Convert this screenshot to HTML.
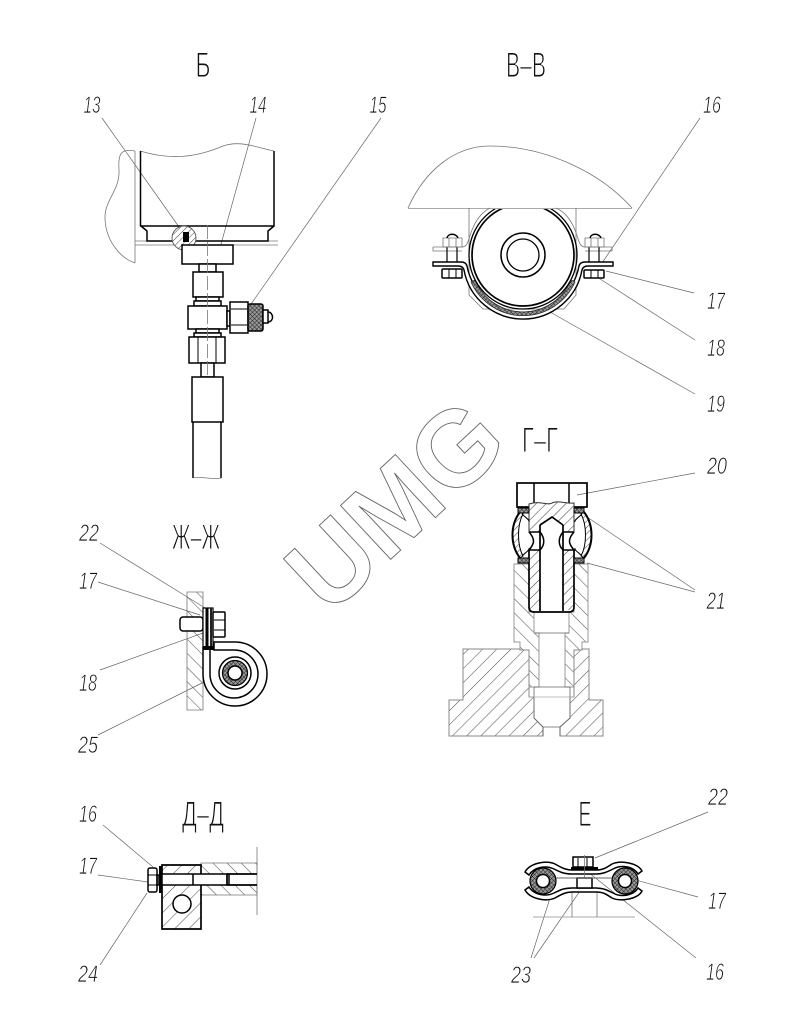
<!DOCTYPE html>
<html><head><meta charset="utf-8"><style>
html,body{margin:0;padding:0;background:#fff}svg{display:block}
.t{fill:none;stroke:#777;stroke-width:.8}
.k{fill:none;stroke:#000;stroke-width:1.5}
.w{fill:#fff;stroke:#000;stroke-width:1.5}
.l{fill:none;stroke:#666;stroke-width:.7}
.g{fill:none;stroke:#aaa;stroke-width:1}
text{font-family:"Liberation Sans","DejaVu Sans",sans-serif}
.n{font-size:24px;font-style:italic;fill:#111;stroke:#fff;stroke-width:.7;paint-order:fill stroke;text-anchor:middle}
.h{font-size:35px;fill:#111;stroke:#fff;stroke-width:1.1;paint-order:fill stroke;text-anchor:middle}
</style></head><body>
<svg width="795" height="1028" viewBox="0 0 795 1028" xmlns="http://www.w3.org/2000/svg">
<defs>
<pattern id="h" patternUnits="userSpaceOnUse" width="10" height="10" patternTransform="rotate(45)"><line x1="0" y1="0" x2="0" y2="10" stroke="#555" stroke-width="1.1"/></pattern>
<pattern id="h7" patternUnits="userSpaceOnUse" width="7" height="7" patternTransform="rotate(45)"><line x1="0" y1="0" x2="0" y2="7" stroke="#444" stroke-width="1.1"/></pattern>
<pattern id="h2" patternUnits="userSpaceOnUse" width="10" height="10" patternTransform="rotate(-45)"><line x1="0" y1="0" x2="0" y2="10" stroke="#555" stroke-width="1.1"/></pattern>
<pattern id="hs" patternUnits="userSpaceOnUse" width="4.500" height="4.500" patternTransform="rotate(45)"><line x1="0" y1="0" x2="0" y2="4.500" stroke="#444" stroke-width="1"/></pattern>
<pattern id="x" patternUnits="userSpaceOnUse" width="3" height="3" patternTransform="rotate(45)"><rect width="3" height="3" fill="#999"/><path d="M0 0V3M0 0H3" stroke="#222" stroke-width="1"/></pattern>
<clipPath id="c1"><rect x="400" y="209" width="260" height="130"/></clipPath>
</defs>
<rect width="795" height="1028" fill="#fff"/>

<!-- watermark -->
<text transform="translate(329,617) rotate(-43)" font-size="107" font-weight="700" fill="none" stroke="#666" stroke-width=".9" style="font-family:'Liberation Sans',sans-serif">UMG</text>

<!-- Titles -->
<text class="h" x="203" y="77" textLength="15" lengthAdjust="spacingAndGlyphs">Б</text>
<text class="h" x="526" y="77" textLength="40" lengthAdjust="spacingAndGlyphs">В–В</text>
<text class="h" x="540" y="452" textLength="36" lengthAdjust="spacingAndGlyphs">Г–Г</text>
<text class="h" x="196" y="549" textLength="48" lengthAdjust="spacingAndGlyphs">Ж–Ж</text>
<text class="h" x="203" y="826" textLength="42" lengthAdjust="spacingAndGlyphs">Д–Д</text>
<text class="h" x="585" y="826" textLength="13" lengthAdjust="spacingAndGlyphs">Е</text>

<!-- Labels -->
<g>
<text class="n" x="92" y="113" textLength="17" lengthAdjust="spacingAndGlyphs">13</text>
<text class="n" x="258" y="113" textLength="17" lengthAdjust="spacingAndGlyphs">14</text>
<text class="n" x="378" y="113" textLength="17" lengthAdjust="spacingAndGlyphs">15</text>
<text class="n" x="712" y="113" textLength="18" lengthAdjust="spacingAndGlyphs">16</text>
<text class="n" x="716" y="309" textLength="18" lengthAdjust="spacingAndGlyphs">17</text>
<text class="n" x="716" y="356" textLength="18" lengthAdjust="spacingAndGlyphs">18</text>
<text class="n" x="716" y="412" textLength="18" lengthAdjust="spacingAndGlyphs">19</text>
<text class="n" x="717" y="474" textLength="20" lengthAdjust="spacingAndGlyphs">20</text>
<text class="n" x="716" y="609" textLength="19" lengthAdjust="spacingAndGlyphs">21</text>
<text class="n" x="89" y="541" textLength="20" lengthAdjust="spacingAndGlyphs">22</text>
<text class="n" x="88" y="589" textLength="18" lengthAdjust="spacingAndGlyphs">17</text>
<text class="n" x="88" y="691" textLength="18" lengthAdjust="spacingAndGlyphs">18</text>
<text class="n" x="88" y="753" textLength="20" lengthAdjust="spacingAndGlyphs">25</text>
<text class="n" x="88" y="822" textLength="18" lengthAdjust="spacingAndGlyphs">16</text>
<text class="n" x="88" y="874" textLength="18" lengthAdjust="spacingAndGlyphs">17</text>
<text class="n" x="88" y="982" textLength="20" lengthAdjust="spacingAndGlyphs">24</text>
<text class="n" x="718" y="805" textLength="20" lengthAdjust="spacingAndGlyphs">22</text>
<text class="n" x="717" y="909" textLength="18" lengthAdjust="spacingAndGlyphs">17</text>
<text class="n" x="715" y="980" textLength="18" lengthAdjust="spacingAndGlyphs">16</text>
<text class="n" x="521" y="983" textLength="20" lengthAdjust="spacingAndGlyphs">23</text>
</g>

<!-- Leaders -->
<path class="l" d="M102,118L179,227M256,118L218,255M381,118L242,317
M700,118L602,263M606,271L694,293M597,277L695,340M550,312L695,394
M577,495L695,473M587,517L695,590M587,563L695,592
M100,543L205,608M98,582L200,615M100,670L203,633M98,735L202,683
M103,825L153,867M98,875L148,882M100,965L147,893
M708,812L595,858M632,879L698,897M588,872L696,958M550,898L531,958M582,888L534,958"/>

<!-- VIEW B -->
<path class="t" d="M135,151C120,148 118,155 119,170C120,190 105,200 105,217C105,240 120,258 135,263"/>
<path class="t" d="M135,151V263M135,241H278M135,245H278"/>
<path class="t" d="M140,151C170,160 195,158 223,146C240,140 255,147 274,151"/>
<path class="k" d="M140.500,151V226H274V151M141,226L147,231V241H268V231L274,226"/>
<circle cx="184" cy="238" r="12" fill="#fff"/>
<circle cx="184" cy="238" r="12" fill="url(#hs)" stroke="#555" stroke-width=".9"/>
<rect x="183" y="232" width="6" height="10" fill="#000"/>
<rect class="w" x="182" y="245" width="51" height="19"/>
<rect class="w" x="199" y="264" width="17" height="8"/>
<rect class="w" x="193" y="272" width="30" height="25"/>
<rect class="w" x="196" y="297" width="23" height="4"/>
<rect class="w" x="194" y="301" width="27" height="5"/>
<rect class="w" x="188" y="306" width="39" height="23"/>
<rect class="w" x="196" y="329" width="23" height="4"/>
<rect class="w" x="194" y="333" width="27" height="4"/>
<rect class="w" x="189" y="337" width="36" height="26"/>
<path class="k" d="M198,337V363M216,337V363" style="stroke-width:1"/>
<rect class="w" x="201" y="363" width="13" height="14"/>
<rect class="w" x="192" y="377" width="31" height="45"/>
<path class="k" d="M193,422V478M221,422V478"/>
<path class="t" d="M193,478C200,476 214,480 221,478"/>
<path class="t" d="M207.500,225V378" stroke-dasharray="14 3"/>
<rect class="w" x="227" y="311" width="3" height="15"/>
<rect class="w" x="230" y="302" width="18" height="31"/>
<path class="k" d="M231,309H247M231,325H247" style="stroke-width:1"/>
<rect x="248" y="304" width="15" height="27" rx="2" fill="url(#x)" stroke="#000" stroke-width="1.5"/>
<rect class="w" x="263" y="310" width="5" height="13"/>
<path class="k" d="M268,312C273,312 275,321 268,322"/>

<!-- VIEW V-V -->
<path class="t" d="M408,208C425,170 455,146 490,146C545,146 600,172 632,208"/>
<path class="g" d="M408,208.500H632"/>
<path class="t" d="M469,208V295L483,309H564L576,295V208"/>
<path class="t" d="M433,247H462C468,247 468,240 472,230C476,220 482,212 490,208M612,247H585C579,247 579,240 575,230C571,220 565,212 556,208"/>
<path class="t" d="M433,247V251H462M612,247V251H585"/>
<path d="M471,282A57,57 0 0 0 575,282L571,280A52,52 0 0 1 475,280Z" fill="url(#x)" stroke="#333" stroke-width=".8"/>
<path class="w" style="stroke-width:1.400" d="M433,266H458Q463,266 464,270A60,60 0 0 0 582,270Q583,266 588,266H613V262H585Q580,262 579,266A57,57 0 0 1 467,266Q466,262 461,262H433Z"/>
<path d="M471,282A57,57 0 0 0 575,282L571,280A52,52 0 0 1 475,280Z" fill="url(#x)" stroke="#333" stroke-width=".8"/>
<g clip-path="url(#c1)">
<circle cx="523" cy="255" r="54" fill="none" stroke="#000" stroke-width="1.300"/>
<circle cx="523" cy="255" r="51" fill="#fff" stroke="#000" stroke-width="1.700"/>
</g>
<circle class="k" cx="523" cy="255" r="22"/>
<circle class="k" cx="523" cy="255" r="16" style="stroke-width:1.300"/>
<path class="k" d="M447,247V262M457,247V262M589,247V262M599,247V262" style="stroke-width:1.200"/>
<path class="t" d="M443,238H462V247H443ZM449,238V247M456,238V247M585,238H604V247H585ZM591,238V247M598,238V247"/>
<path d="M447,238C448,233 456,233 458,238M590,238C591,233 599,233 601,238" fill="none" stroke="#000" stroke-width="1.500"/>
<rect class="w" x="442" y="269" width="20" height="9" rx="1"/>
<rect class="w" x="584" y="270" width="20" height="8" rx="1"/>
<path class="k" d="M449,269V278M456,269V278M591,270V278M598,270V278" style="stroke-width:1"/>

<!-- VIEW G-G -->
<path d="M514,564H529V612H534V633H539V687H529V650H520V642H514Z" style="fill:url(#h2);stroke:#999;stroke-width:1"/>
<path d="M588,564H574V612H569V633H565V687H574V650H582V642H588Z" style="fill:url(#h2);stroke:#999;stroke-width:1"/>
<path d="M463,649H520V650H529V697H534V718L543,727V736H449V700H463ZM589,649H582V650H574V697H570V718L560,727V736H603V700H589Z" fill="url(#h)" stroke="#888" stroke-width="1"/>
<path class="t" d="M534,687H570V718L560,727H543L534,718V687M534,633H569" style="stroke:#666"/>
<path class="t" d="M529,697H574" style="stroke:#aaa"/>
<path class="t" d="M543,727V736M560,727V736" style="stroke:#555"/>
<rect class="k" x="517" y="483" width="70" height="24" style="stroke-width:1.700"/>
<path class="k" d="M534,483V503M569,483V503"/>
<path d="M529,504C540,500 548,506 552,503C558,500 566,504 574,503V532H563V525L552,517L540,525V532H529Z" style="fill:#fff"/>
<path d="M529,504C540,500 548,506 552,503C558,500 566,504 574,503V532H563V525L552,517L540,525V532H529Z" fill="url(#h7)" stroke="#333" stroke-width="1"/>
<path d="M529,550H540V610H530ZM563,550H574V610H563Z" fill="url(#h7)"/>
<path class="k" d="M529,532H540M563,532H574M529,532C536,540 534,544 529,550H540C545,545 545,538 540,532M574,532C567,540 569,544 574,550H563C558,545 558,538 563,532"/>
<path d="M529,550V607Q529,612 534,612H569Q574,612 574,607V550M540,525V611M563,525V611M540,525L552,517L563,525" fill="none" stroke="#000" stroke-width="1.700"/>
<path d="M520,512C510,525 510,545 520,558L523,556C517,545 517,525 523,514Z" fill="url(#hs)" stroke="#000" stroke-width="1"/>
<path d="M584,512C594,525 594,545 584,558L581,556C587,545 587,525 581,514Z" fill="url(#hs)" stroke="#000" stroke-width="1"/>
<path d="M520,512C510,525 510,545 520,558M584,512C594,525 594,545 584,558" fill="none" stroke="#000" stroke-width="2"/>
<path class="k" d="M522,514C526,518 530,520 529,522M582,514C578,518 574,520 575,522M522,556C526,552 530,550 529,548M582,556C578,552 574,550 575,548" style="stroke-width:1"/>
<rect x="518" y="508" width="11" height="5" fill="url(#x)" stroke="#000"/><rect x="518" y="558" width="11" height="5" fill="url(#x)" stroke="#000"/>
<rect x="574" y="508" width="10" height="5" fill="url(#x)" stroke="#000"/><rect x="574" y="558" width="10" height="5" fill="url(#x)" stroke="#000"/>

<!-- VIEW ZH-ZH -->
<path d="M187,592H203V710H187Z" style="fill:url(#h2);stroke:#777;stroke-width:.8"/>
<rect class="w" x="180" y="617" width="23" height="14" rx="3"/>
<rect x="203" y="608" width="10" height="40" fill="#fff" stroke="#000" stroke-width="1.200"/>
<rect x="205.500" y="608" width="3" height="40" fill="#000"/>
<rect x="210" y="608" width="2" height="40" fill="#222"/>
<rect class="w" x="213" y="612" width="12" height="25" rx="1"/>
<path class="k" d="M214,620H225M214,630H225" style="stroke-width:1"/>
<path d="M203,648V674A32,32 0 1 0 235,642H214V650H235A24,24 0 1 1 210,674V648Z" fill="#fff" stroke="#000" stroke-width="1.500"/>
<rect x="203" y="646" width="11" height="4" fill="#000"/>
<circle class="k" cx="235" cy="673" r="16"/>
<circle cx="235" cy="673" r="12.500" fill="url(#x)" stroke="#000" stroke-width="1.200"/>
<circle cx="235" cy="673" r="7" fill="#fff" stroke="#000" stroke-width="1.500"/>

<!-- VIEW D-D -->
<path d="M257,847V915" class="t"/>
<path d="M201,863H257V874H201ZM201,885H257V895H201Z" style="fill:url(#h2);stroke:#777;stroke-width:.8"/>
<path d="M162,865H201V929H162Z" fill="url(#h)" stroke="#000" stroke-width="1.700"/>
<rect class="w" x="162" y="874" width="65" height="11"/>
<path class="k" d="M227,874H257M227,885H257" style="stroke-width:1.700"/>
<path class="k" d="M193,874V885M227,874V885M229,874V885"/>
<circle class="w" cx="182" cy="904" r="9"/>
<rect x="159" y="866" width="3" height="27" fill="#000"/>
<rect class="w" x="148" y="868" width="9" height="24" rx="2"/>
<rect class="k" x="157" y="875" width="2" height="10"/>
<path class="k" d="M148,875H157M148,885H157" style="stroke-width:1"/>

<!-- VIEW E -->
<path class="g" d="M533,917H635"/>
<path class="t" d="M572,892V917M597,892V917"/>
<circle cx="543" cy="881" r="13" fill="url(#x)" stroke="#000" stroke-width="1.200"/>
<circle cx="543" cy="881" r="6.500" fill="#fff" stroke="#000" stroke-width="1.500"/>
<circle cx="625" cy="881" r="13" fill="url(#x)" stroke="#000" stroke-width="1.200"/>
<circle cx="625" cy="881" r="6.500" fill="#fff" stroke="#000" stroke-width="1.500"/>
<path class="w" d="M525,872C530,863 546,860 555,864C562,868 566,870 572,870H596C603,870 606,868 612,864C621,860 638,863 642,871L638,874C634,867 622,864 613,869C607,872 603,874 596,874H572C564,874 560,872 554,869C546,865 534,867 529,875Z"/>
<path class="w" d="M525,890C530,899 546,902 555,898C562,894 566,892 572,892H596C603,892 606,894 612,898C621,902 638,899 642,891L638,888C634,895 622,898 613,893C607,890 603,888 596,888H572C564,888 560,890 554,893C546,897 534,895 529,887Z"/>
<path class="w" d="M573,857H593V867H573Z"/>
<path class="k" d="M578,858V867M587,858V867" style="stroke-width:1"/>
<rect x="571" y="867" width="27" height="3" fill="#000"/>
<rect class="w" x="577" y="878" width="15" height="10"/>
<path d="M584.500,855V878" class="t"/>
<path class="k" d="M556,878H612" style="stroke-width:.9;stroke:#666"/>
</svg>
</body></html>
